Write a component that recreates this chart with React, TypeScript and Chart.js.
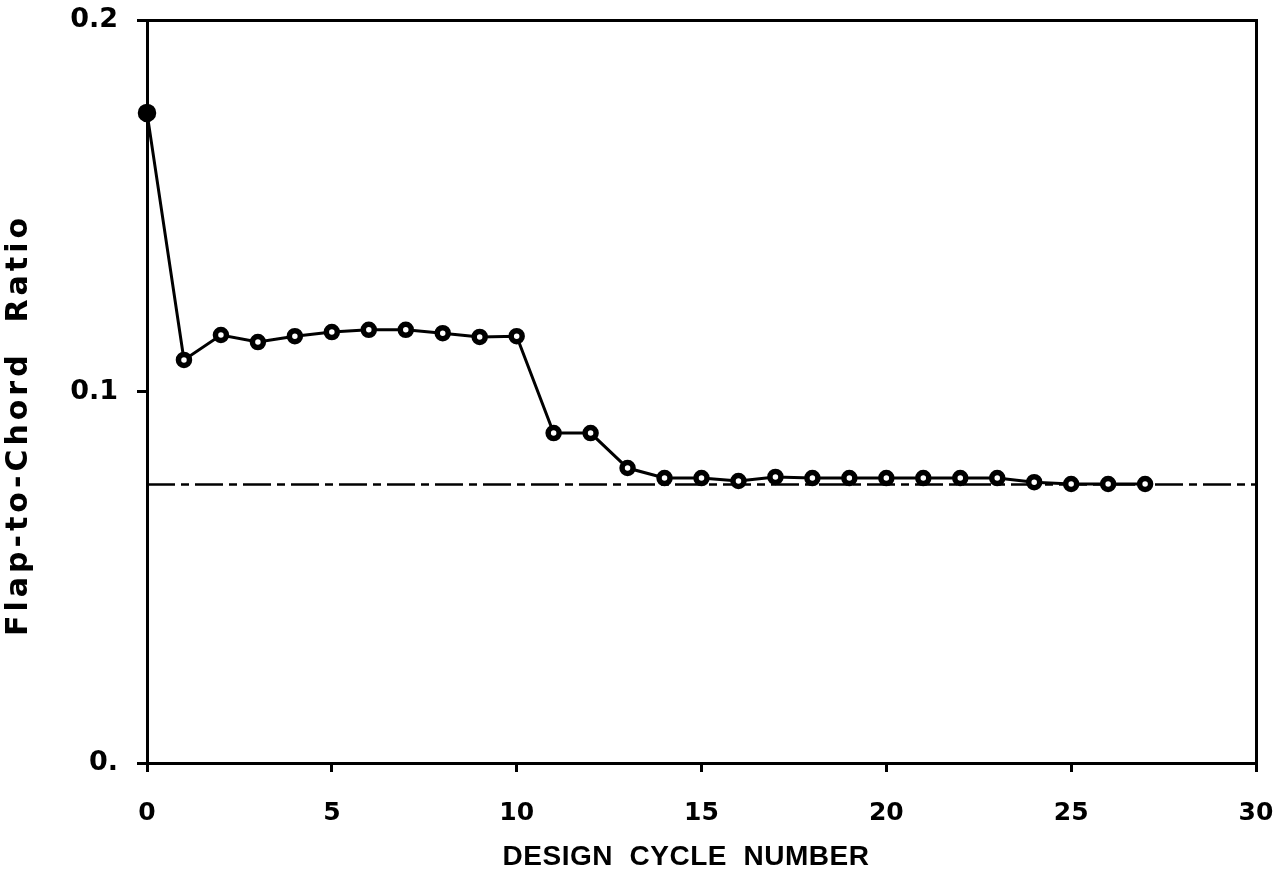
import React, { useEffect, useRef } from "react";
import { Chart, registerables } from "chart.js";

Chart.register(...registerables);

// ---- data ----
const cycles = [0, 1, 2, 3, 4, 5, 6, 7, 8, 9, 10, 11, 12, 13, 14, 15, 16, 17, 18, 19, 20, 21, 22, 23, 24, 25, 26, 27];
const ratios = [
  0.175, 0.1085, 0.1152, 0.1133, 0.1149, 0.116, 0.1166, 0.1166, 0.1157, 0.1147, 0.1149,
  0.0888, 0.0888, 0.0794, 0.0767, 0.0767, 0.0759, 0.077, 0.0767, 0.0767, 0.0767, 0.0767,
  0.0767, 0.0767, 0.0756, 0.0751, 0.0751, 0.0751,
];
const targetCycles = [0, 30];
const targetRatio = 0.075;
const xTickValues = [0, 5, 10, 15, 20, 25, 30];
const yTickValues = [0, 0.1, 0.2];
const yTickLabels = ["0.", "0.1", "0.2"];
const xTitle = "DESIGN  CYCLE  NUMBER";
const yTitle = "Flap-to-Chord  Ratio";

const axisTitles = {
  id: "axisTitles",
  afterDraw(chart: any) {
    const { ctx, chartArea } = chart;
    const { left, right, top, bottom } = chartArea;
    ctx.save();
    ctx.fillStyle = "#000";
    ctx.textAlign = "center";
    ctx.textBaseline = "alphabetic";
    ctx.font = 'bold 28px "Liberation Sans"';
    try { (ctx as any).letterSpacing = "0.5px"; } catch (e) {}
    ctx.fillText(xTitle, left + (right - left) * 0.486, bottom + 102);
    ctx.translate(left - 120, top + (bottom - top) * 0.545);
    ctx.rotate(-Math.PI / 2);
    ctx.font = 'bold 30px "DejaVu Sans"';
    try { (ctx as any).letterSpacing = "4px"; } catch (e) {}
    ctx.fillText(yTitle, 0, 0);
    ctx.restore();
  },
};

const zeroPad = (s: any) => {
  s.paddingTop = 0;
  s.paddingBottom = 0;
  s.paddingLeft = 0;
  s.paddingRight = 0;
};

export default function App() {
  const ref = useRef<HTMLCanvasElement | null>(null);

  useEffect(() => {
    if (!ref.current) return;
    const black = "#000";
    const chart = new Chart(ref.current, {
      type: "line",
      data: {
        datasets: [
          {
            data: targetCycles.map((c) => ({ x: c, y: targetRatio })),
            borderColor: black,
            borderWidth: 2.5,
            borderDash: [28, 6, 8, 6],
            pointRadius: 0,
            clip: false,
            order: 2,
          },
          {
            data: cycles.map((c, i) => ({ x: c, y: ratios[i] })),
            borderColor: black,
            borderWidth: 3,
            pointRadius: (c: any) => (c.dataIndex === 0 ? 6.5 : 5.5),
            pointBorderWidth: 5.5,
            pointBorderColor: black,
            pointBackgroundColor: (c: any) => (c.dataIndex === 0 ? black : "#fff"),
            clip: false,
            order: 1,
          },
        ],
      },
      options: {
        animation: false,
        responsive: false,
        layout: { padding: { top: 20, right: 32, left: 0, bottom: 0 } },
        plugins: { legend: { display: false }, tooltip: { enabled: false } },
        scales: {
          x: {
            type: "linear",
            position: "bottom",
            min: 0,
            max: 30,
            afterFit: (s: any) => { s.height = 121; zeroPad(s); },
            afterBuildTicks: (s: any) => { s.ticks = xTickValues.map((v) => ({ value: v })); },
            ticks: {
              color: black,
              font: { family: "DejaVu Sans", weight: "bold", size: 25 },
              padding: 26,
              maxRotation: 0,
              callback: (v: any) => String(v),
            },
            grid: { display: true, drawOnChartArea: false, drawTicks: true, tickLength: 9, lineWidth: 3, color: black },
            border: { display: true, color: black, width: 3 },
          },
          y: {
            type: "linear",
            position: "left",
            min: 0,
            max: 0.2,
            afterFit: (s: any) => { s.width = 147; zeroPad(s); },
            afterBuildTicks: (s: any) => { s.ticks = yTickValues.map((v) => ({ value: v })); },
            ticks: {
              color: black,
              font: { family: "DejaVu Sans", weight: "bold", size: 27 },
              padding: 19,
              callback: (v: any) => {
                const i = yTickValues.findIndex((t) => Math.abs(t - v) < 1e-9);
                return i >= 0 ? yTickLabels[i] : "";
              },
            },
            grid: { display: true, drawOnChartArea: false, drawTicks: true, tickLength: 10, lineWidth: 3, color: black },
            border: { display: true, color: black, width: 3 },
          },
          x2: {
            type: "linear",
            position: "top",
            min: 0,
            max: 30,
            afterFit: (s: any) => { s.height = 0; zeroPad(s); },
            ticks: { display: false },
            grid: { display: false, drawTicks: false },
            border: { display: true, color: black, width: 3 },
          },
          y2: {
            type: "linear",
            position: "right",
            min: 0,
            max: 0.2,
            afterFit: (s: any) => { s.width = 0; zeroPad(s); },
            ticks: { display: false },
            grid: { display: false, drawTicks: false },
            border: { display: true, color: black, width: 3 },
          },
        },
      } as any,
      plugins: [axisTitles],
    });
    return () => chart.destroy();
  }, []);

  return (
    <div style={{ position: "absolute", left: 0, top: 0, width: 1288, height: 884, background: "#fff" }}>
      <canvas ref={ref} width={1288} height={884} style={{ width: 1288, height: 884, display: "block" }} />
    </div>
  );
}
